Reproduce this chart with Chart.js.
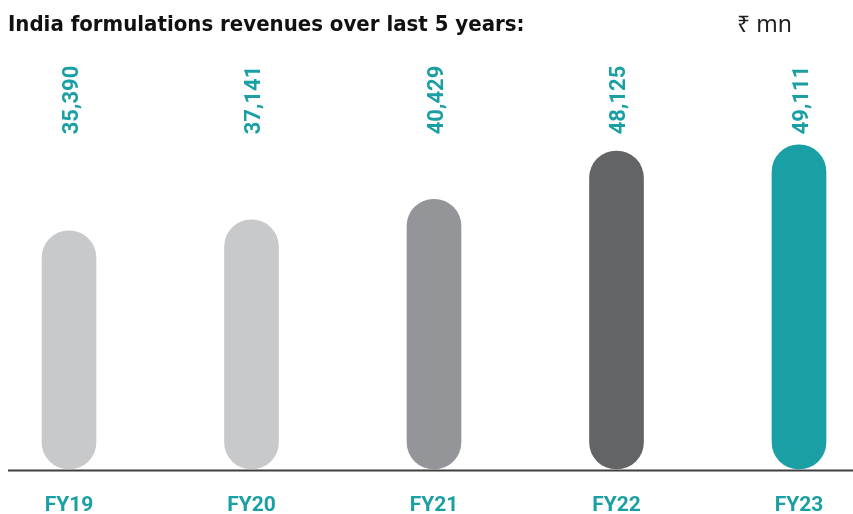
<!DOCTYPE html>
<html>
<head>
<meta charset="utf-8">
<script src="https://cdn.jsdelivr.net/npm/chart.js@4.4.0/dist/chart.umd.min.js"></script>
<style>
    html, body { margin: 0; padding: 0; background: #fff; }
    #wrap { position: relative; width: 853px; height: 514px; overflow: hidden; }
    #title { position: absolute; left: 8px; top: 11px; font: 700 22px "DejaVu Sans Condensed", "DejaVu Sans", sans-serif; font-stretch: condensed; color: #111; white-space: nowrap; }
    #unit { position: absolute; left: 737px; top: 7px; font: 400 23px "Noto Sans", "DejaVu Sans", sans-serif; color: #222; white-space: nowrap; }
    #chart { position: absolute; left: 0; top: 0; }
</style>
</head>
<body>
<div id="wrap">
    <canvas id="chart" width="853" height="514"></canvas>
    <div id="title">India formulations revenues over last 5 years:</div>
    <div id="unit">₹ mn</div>
</div>
<script>
const years = ['FY19', 'FY20', 'FY21', 'FY22', 'FY23'];
const revenues = [35390, 37141, 40429, 48125, 49111];
const barColors = ['#c8c9cb', '#c8c9cb', '#939598', '#636466', '#1a9fa4'];
const teal = '#1a9fa4';
const yMin = -2600;
const yMax = 62650;

// value labels, rotated, sitting above the bars
const valueLabels = {
    id: 'valueLabels',
    afterDatasetsDraw(chart) {
        const ctx = chart.ctx;
        const meta = chart.getDatasetMeta(0);
        ctx.save();
        ctx.fillStyle = teal;
        ctx.font = '700 22px Roboto, sans-serif';
        ctx.textAlign = 'center';
        ctx.textBaseline = 'middle';
        meta.data.forEach((bar, i) => {
            ctx.save();
            ctx.translate(bar.x + 3, 100);
            ctx.rotate(-Math.PI / 2);
            ctx.fillText(revenues[i].toLocaleString('en-US'), 0, 0);
            ctx.restore();
        });
        ctx.restore();
    }
};

// the baseline runs almost the full width of the picture
const baseLine = {
    id: 'baseLine',
    beforeDatasetsDraw(chart) {
        const ctx = chart.ctx;
        const y = chart.chartArea.bottom + 1.5;
        ctx.save();
        ctx.strokeStyle = '#3f3f3f';
        ctx.lineWidth = 2;
        ctx.beginPath();
        ctx.moveTo(8, y);
        ctx.lineTo(chart.width, y);
        ctx.stroke();
        ctx.restore();
    }
};

new Chart(document.getElementById('chart'), {
    type: 'bar',
    data: {
        labels: years,
        datasets: [{
            data: revenues,
            base: yMin,
            clip: false,
            backgroundColor: barColors,
            borderRadius: 27,
            borderSkipped: false,
            barThickness: 54
        }]
    },
    options: {
        responsive: false,
        animation: false,
        layout: { padding: { top: 60, left: 69, right: 54, bottom: 0 } },
        plugins: {
            legend: { display: false },
            tooltip: { enabled: false }
        },
        scales: {
            x: {
                offset: false,
                grid: { display: false, drawTicks: false },
                border: { display: false },
                afterFit(scale) { scale.height = 45; },
                ticks: {
                    color: teal,
                    padding: 26,
                    maxRotation: 0,
                    font: { family: 'Roboto', weight: '700', size: 21, lineHeight: 1 }
                }
            },
            y: {
                display: false,
                min: yMin,
                max: yMax
            }
        }
    },
    plugins: [baseLine, valueLabels]
});
</script>
</body>
</html>
